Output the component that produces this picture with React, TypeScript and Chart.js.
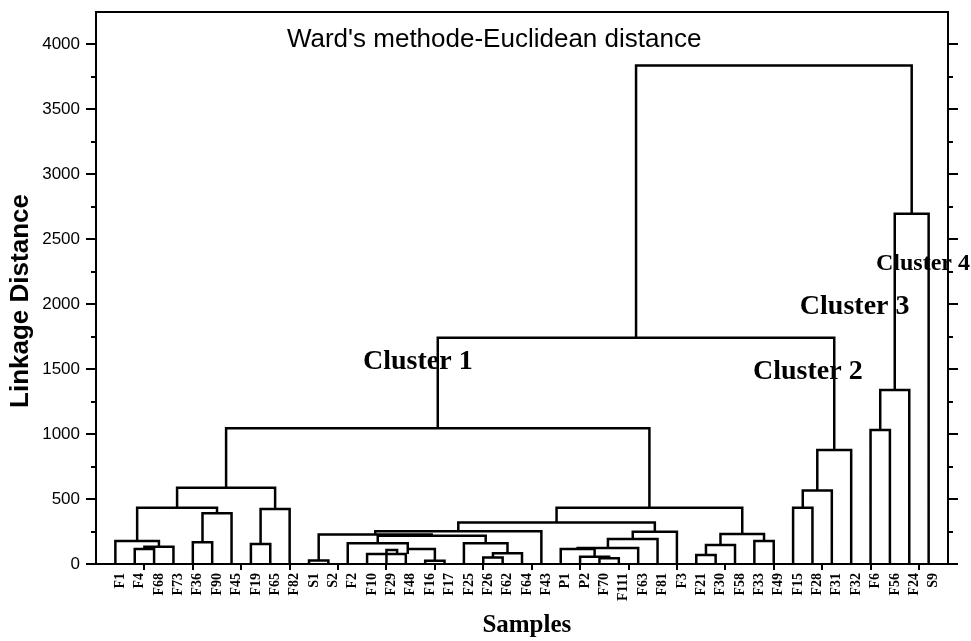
import React, { useEffect, useRef } from 'react';
import { Chart, registerables } from 'chart.js';

Chart.register(...registerables);

// Leaf order along the x axis (leaf i sits at position i + 1)
const sampleLabels: string[] = [
  'F1', 'F4', 'F68', 'F73', 'F36', 'F90', 'F45', 'F19', 'F65', 'F82',
  'S1', 'S2', 'F2', 'F10', 'F29', 'F48', 'F16', 'F17', 'F25', 'F26',
  'F62', 'F64', 'F43', 'P1', 'P2', 'F70', 'F111', 'F63', 'F81', 'F3',
  'F21', 'F30', 'F58', 'F33', 'F49', 'F15', 'F28', 'F31', 'F32', 'F6',
  'F56', 'F24', 'S9',
];

// Dendrogram links (like scipy icoord/dcoord):
// horizontal extent of each link, in leaf-position units
const linkX: number[][] = [
  [2, 3], [2.5, 4], [1, 3.25], [5, 6], [5.5, 7], [2.125, 6.25],
  [8, 9], [8.5, 10], [4.1875, 9.25],
  [11, 12], [14, 16], [15, 15.55], [17, 18], [16.1, 17.5], [13, 16.1],
  [20, 21], [20.5, 22], [19, 21.25], [14.55, 20.125], [11.5, 17.3375],
  [14.42, 23],
  [26, 27], [25, 26.5], [24, 25.75], [24.875, 28], [26.4375, 29],
  [27.72, 30], [18.71, 28.86],
  [31, 32], [31.5, 33], [34, 35], [32.25, 34.5], [23.785, 33.375],
  [6.71875, 28.58],
  [36, 37], [36.5, 38], [37.25, 39], [17.65, 38.125],
  [40, 41], [40.5, 42], [41.25, 43], [27.89, 42.125],
];

// linkage distances of each link: [left base, merge height, right base]
const linkY: number[][] = [
  [0, 115, 0], [115, 133, 0], [0, 177, 133], [0, 167, 0], [167, 390, 0], [177, 434, 390],
  [0, 154, 0], [154, 424, 0], [434, 588, 424],
  [0, 27, 0], [0, 77, 0], [0, 108, 77], [0, 25, 0], [77, 115, 25], [0, 159, 115],
  [0, 51, 0], [51, 82, 0], [0, 159, 82], [159, 218, 159], [27, 228, 218],
  [228, 252, 0],
  [0, 45, 0], [0, 55, 45], [0, 115, 55], [115, 123, 0], [123, 193, 0],
  [193, 249, 0], [252, 320, 249],
  [0, 69, 0], [69, 146, 0], [0, 177, 0], [146, 231, 177], [320, 434, 231],
  [588, 1045, 434],
  [0, 434, 0], [434, 565, 0], [565, 878, 0], [1045, 1741, 878],
  [0, 1032, 0], [1032, 1340, 0], [1340, 2697, 0], [1741, 3838, 2697],
];

const yTickValues: number[] = [0, 500, 1000, 1500, 2000, 2500, 3000, 3500, 4000];
const yMinorStep = 250;
const xMinorStep = 2.5;

const chartTitle = "Ward's methode-Euclidean distance";
const xTitle = 'Samples';
const yTitle = 'Linkage Distance';
const clusterNames: string[] = ['Cluster 1', 'Cluster 2', 'Cluster 3', 'Cluster 4'];

// annotation placement (data units) and style, kept apart from the data
const clusterPos = [
  { x: 13.79, y: 1555, size: 28 },
  { x: 33.93, y: 1478, size: 28 },
  { x: 36.35, y: 1979, size: 28 },
  { x: 40.28, y: 2310, size: 24 },
];
const titlePos = { x: 9.86, y: 4034 };

const X_MAX = 44;
const Y_MAX = 4250;

const decorPlugin = {
  id: 'decor',
  afterDraw(chart: any) {
    const { ctx, chartArea: a, scales } = chart;
    const xs = scales.x;
    const ys = scales.y;
    ctx.save();
    ctx.strokeStyle = '#000';
    ctx.lineWidth = 2;
    ctx.beginPath();
    for (let v = 0; v < Y_MAX; v += yMinorStep) {
      const py = Math.round(ys.getPixelForValue(v));
      const len = v % 500 === 0 ? 10 : 5;
      ctx.moveTo(a.left - len, py);
      ctx.lineTo(a.left, py);
      ctx.moveTo(a.right, py);
      ctx.lineTo(a.right + len, py);
    }
    for (let v = xMinorStep; v < X_MAX; v += xMinorStep) {
      const px = Math.round(xs.getPixelForValue(v));
      ctx.moveTo(px, a.bottom);
      ctx.lineTo(px, a.bottom + 6);
    }
    ctx.stroke();

    ctx.fillStyle = '#000';
    ctx.textBaseline = 'middle';

    // chart title inside the plot
    ctx.font = '26px "Liberation Sans", Arial, sans-serif';
    ctx.textAlign = 'left';
    ctx.fillText(chartTitle, xs.getPixelForValue(titlePos.x), ys.getPixelForValue(titlePos.y));

    // cluster labels
    clusterNames.forEach((name, i) => {
      const p = clusterPos[i];
      ctx.font = `bold ${p.size}px "Liberation Serif", "Times New Roman", serif`;
      ctx.textAlign = 'left';
      ctx.fillText(name, xs.getPixelForValue(p.x), ys.getPixelForValue(p.y));
    });

    // x axis title
    ctx.font = 'bold 25px "Liberation Serif", "Times New Roman", serif';
    ctx.textAlign = 'center';
    ctx.fillText(xTitle, xs.getPixelForValue(22.25), a.bottom + 62);

    // y axis title
    ctx.save();
    ctx.translate(21, ys.getPixelForValue(2025));
    ctx.rotate(-Math.PI / 2);
    ctx.font = 'bold 26px "Liberation Sans", Arial, sans-serif';
    ctx.textAlign = 'center';
    ctx.fillText(yTitle, 0, 0);
    ctx.restore();

    ctx.restore();
  },
};

function buildDendrogramPoints() {
  const pts: { x: number; y: number | null }[] = [];
  linkX.forEach(([xl, xr], i) => {
    const [yl, yt, yr] = linkY[i];
    pts.push({ x: xl, y: yl }, { x: xl, y: yt }, { x: xr, y: yt }, { x: xr, y: yr }, { x: xr, y: null });
  });
  return pts;
}

export default function App() {
  const canvasRef = useRef<HTMLCanvasElement | null>(null);

  useEffect(() => {
    if (!canvasRef.current) return;
    const black = '#000';
    const border = { display: true, color: black, width: 2 };
    const noGrid = { display: false, drawTicks: false };
    const noPad = (s: any) => {
      s.paddingTop = 0;
      s.paddingBottom = 0;
      s.paddingLeft = 0;
      s.paddingRight = 0;
    };
    const chart = new Chart(canvasRef.current, {
      type: 'line',
      data: {
        datasets: [
          {
            data: buildDendrogramPoints() as any,
            borderColor: black,
            borderWidth: 2.5,
            pointRadius: 0,
            tension: 0,
            spanGaps: false,
            clip: false as any,
            borderJoinStyle: 'miter',
            xAxisID: 'x',
            yAxisID: 'y',
          },
        ],
      },
      options: {
        responsive: false,
        animation: false,
        devicePixelRatio: 1,
        events: [],
        layout: { padding: 0 },
        plugins: { legend: { display: false }, tooltip: { enabled: false }, title: { display: false } },
        scales: {
          x: {
            type: 'linear',
            position: 'bottom',
            min: 0,
            max: X_MAX,
            afterBuildTicks: (s: any) => {
              s.ticks = sampleLabels.map((_, i) => ({ value: i + 1 }));
            },
            ticks: {
              autoSkip: false,
              minRotation: 90,
              maxRotation: 90,
              padding: 9,
              labelOffset: 5,
              color: black,
              font: { family: '"Liberation Serif", "Times New Roman", serif', size: 14, weight: 'bold' },
              callback: (v: any) => sampleLabels[Math.round(Number(v)) - 1] ?? '',
            },
            grid: noGrid,
            border,
            afterFit: (s: any) => {
              s.height = 77;
              noPad(s);
            },
          },
          xTop: {
            type: 'linear',
            position: 'top',
            min: 0,
            max: X_MAX,
            ticks: { display: false },
            grid: noGrid,
            border,
            afterFit: (s: any) => {
              s.height = 12;
              noPad(s);
            },
          },
          y: {
            type: 'linear',
            position: 'left',
            min: 0,
            max: Y_MAX,
            afterBuildTicks: (s: any) => {
              s.ticks = yTickValues.map((v) => ({ value: v }));
            },
            ticks: {
              padding: 16,
              color: black,
              font: { family: '"Liberation Sans", Arial, sans-serif', size: 17 },
              callback: (v: any) => String(v),
            },
            grid: noGrid,
            border,
            afterFit: (s: any) => {
              s.width = 96;
              noPad(s);
            },
          },
          y2: {
            type: 'linear',
            position: 'right',
            min: 0,
            max: Y_MAX,
            ticks: { display: false },
            grid: noGrid,
            border,
            afterFit: (s: any) => {
              s.width = 23;
              noPad(s);
            },
          },
        },
      } as any,
      plugins: [decorPlugin],
    });
    return () => chart.destroy();
  }, []);

  return (
    <div style={{ position: 'absolute', left: 0, top: 0, width: 971, height: 641, background: '#fff' }}>
      <canvas ref={canvasRef} width={971} height={641} style={{ display: 'block' }} />
    </div>
  );
}
